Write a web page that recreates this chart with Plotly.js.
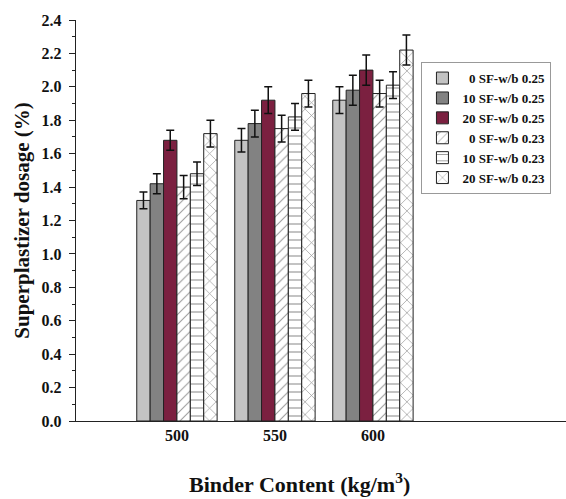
<!DOCTYPE html>
<html>
<head>
<meta charset="utf-8">
<script src="https://cdn.plot.ly/plotly-3.0.1.min.js"></script>
<style>html,body{margin:0;padding:0;background:#fff;}#chart{width:566px;height:499px;}</style>
</head>
<body>
<div id="chart"></div>
<script>
const binder = [500, 550, 600];
const seriesNames = ['\u00a0\u00a00 SF-w/b 0.25', '10 SF-w/b 0.25', '20 SF-w/b 0.25', '\u00a0\u00a00 SF-w/b 0.23', '10 SF-w/b 0.23', '20 SF-w/b 0.23'];
const sf0_025 = [1.32, 1.68, 1.92];
const sf10_025 = [1.42, 1.78, 1.98];
const sf20_025 = [1.68, 1.92, 2.10];
const sf0_023 = [1.40, 1.75, 1.96];
const sf10_023 = [1.48, 1.82, 2.01];
const sf20_023 = [1.72, 1.96, 2.22];
const err0_025 = [0.05, 0.07, 0.08];
const err10_025 = [0.06, 0.08, 0.09];
const err20_025 = [0.06, 0.08, 0.09];
const err0_023 = [0.07, 0.08, 0.08];
const err10_023 = [0.07, 0.08, 0.08];
const err20_023 = [0.08, 0.08, 0.09];

const values = [sf0_025, sf10_025, sf20_025, sf0_023, sf10_023, sf20_023];
const errors = [err0_025, err10_025, err20_025, err0_023, err10_023, err20_023];
const fills = ['#c3c3c3', '#828282', '#7b2040', '#ffffff', '#ffffff', '#ffffff'];
const patterns = ['', '', '', '/', '-', 'x'];
const patSize = [8, 8, 8, 7, 8, 9];

const font = {family: 'Liberation Serif, Times New Roman, serif', color: '#111', weight: 'bold'};

const traces = values.map((v, i) => ({
  type: 'bar',
  name: seriesNames[i],
  x: binder,
  y: v,
  error_y: {type: 'data', array: errors[i], visible: true, color: '#111', thickness: 1.5, width: 4},
  marker: {
    color: fills[i],
    line: {color: '#222', width: 1},
    pattern: {shape: patterns[i], fgcolor: '#333', bgcolor: '#ffffff', size: patSize[i], solidity: 0.15, fillmode: 'overlay'}
  }
}));

const layout = {
  width: 566, height: 499,
  margin: {l: 76, r: 0, t: 20, b: 78},
  paper_bgcolor: '#fff', plot_bgcolor: '#fff',
  barmode: 'group', bargap: 0.18, bargroupgap: 0,
  showlegend: true,
  legend: {
    x: 0.705, y: 0.895, xanchor: 'left', yanchor: 'top',
    bordercolor: '#999', borderwidth: 1, bgcolor: '#fff',
    font: Object.assign({}, font, {size: 13}),
    tracegroupgap: 0, itemwidth: 30
  },
  xaxis: {
    range: [448.5, 698.5],
    tickmode: 'array', tickvals: binder, ticktext: binder.map(String),
    ticks: '', showgrid: false, zeroline: false,
    showline: true, linecolor: '#222', linewidth: 1.2,
    tickfont: Object.assign({}, font, {size: 16})
  },
  yaxis: {
    range: [0, 2.4], dtick: 0.2, tickformat: '.1f',
    ticks: 'outside', ticklen: 6, tickcolor: '#222', tickwidth: 1,
    ticklabelstandoff: 4,
    minor: {dtick: 0.1, ticks: 'outside', ticklen: 3, tickcolor: '#222'},
    showgrid: false, zeroline: false,
    showline: true, linecolor: '#222', linewidth: 1.2,
    tickfont: Object.assign({}, font, {size: 16}),
    title: {text: 'Superplastizer dosage (%)', font: Object.assign({}, font, {size: 21}), standoff: 6}
  },
  annotations: [{
    text: 'Binder Content (kg/m<sup>3</sup>)',
    xref: 'paper', yref: 'paper', x: 0.457, y: -0.155,
    xanchor: 'center', yanchor: 'middle', showarrow: false,
    font: Object.assign({}, font, {size: 22})
  }]
};

Plotly.newPlot('chart', traces, layout, {displayModeBar: false, staticPlot: true});
</script>
</body>
</html>
